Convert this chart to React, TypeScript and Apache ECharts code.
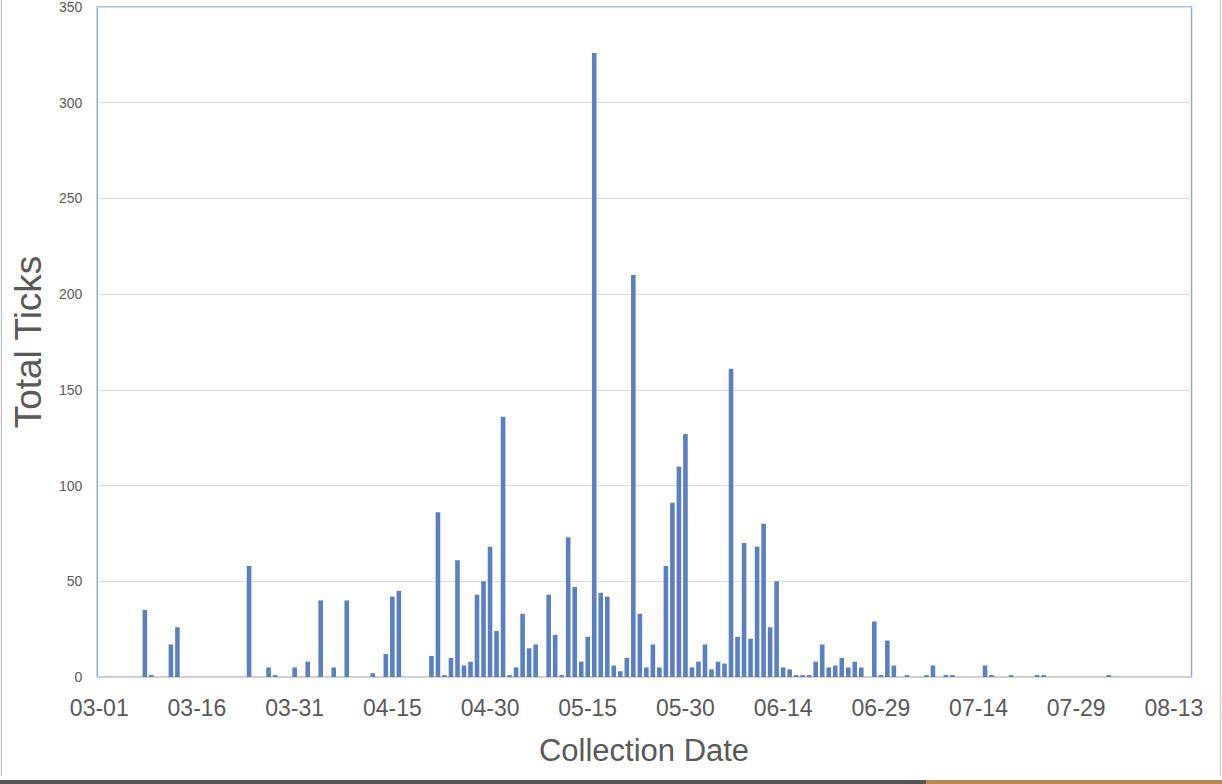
import React, { useEffect, useRef } from "react";
import * as echarts from "echarts";

// Collection dates (MM-DD) and total ticks counted on each date
const dates: string[] = [
  "03-08", "03-09", "03-12", "03-13", "03-24", "03-27", "03-28", "03-31",
  "04-02", "04-04", "04-06", "04-08", "04-12", "04-14", "04-15", "04-16",
  "04-21", "04-22", "04-23", "04-24", "04-25", "04-26", "04-27", "04-28",
  "04-29", "04-30", "05-01", "05-02", "05-03", "05-04", "05-05", "05-06",
  "05-07", "05-09", "05-10", "05-11", "05-12", "05-13", "05-14", "05-15",
  "05-16", "05-17", "05-18", "05-19", "05-20", "05-21", "05-22", "05-23",
  "05-24", "05-25", "05-26", "05-27", "05-28", "05-29", "05-30", "05-31",
  "06-01", "06-02", "06-03", "06-04", "06-05", "06-06", "06-07", "06-08",
  "06-09", "06-10", "06-11", "06-12", "06-13", "06-14", "06-15", "06-16",
  "06-17", "06-18", "06-19", "06-20", "06-21", "06-22", "06-23", "06-24",
  "06-25", "06-26", "06-28", "06-29", "06-30", "07-01", "07-03", "07-06",
  "07-07", "07-09", "07-10", "07-15", "07-16", "07-19", "07-23", "07-24",
  "08-03",
];

const totalTicks: number[] = [
  35, 1, 17, 26, 58, 5, 1, 5,
  8, 40, 5, 40, 2, 12, 42, 45,
  11, 86, 1, 10, 61, 6, 8, 43,
  50, 68, 24, 136, 1, 5, 33, 15,
  17, 43, 22, 1, 73, 47, 8, 21,
  326, 44, 42, 6, 3, 10, 210, 33,
  5, 17, 5, 58, 91, 110, 127, 5,
  8, 17, 4, 8, 7, 161, 21, 70,
  20, 68, 80, 26, 50, 5, 4, 1,
  1, 1, 8, 17, 5, 6, 10, 5,
  8, 5, 29, 1, 19, 6, 1, 1,
  6, 1, 1, 6, 1, 1, 1, 1,
  1,
];

const xTickLabels: string[] = [
  "03-01", "03-16", "03-31", "04-15", "04-30", "05-15",
  "05-30", "06-14", "06-29", "07-14", "07-29", "08-13",
];

const yMin = 0;
const yMax = 350;
const yInterval = 50;

const START = Date.UTC(2021, 2, 1);
const DAY = 86400000;

function dayIndex(mmdd: string): number {
  const [m, d] = mmdd.split("-").map(Number);
  return Math.round((Date.UTC(2021, m - 1, d) - START) / DAY);
}

function dayLabel(idx: number): string {
  const dt = new Date(START + Math.round(idx) * DAY);
  const m = String(dt.getUTCMonth() + 1).padStart(2, "0");
  const d = String(dt.getUTCDate()).padStart(2, "0");
  return `${m}-${d}`;
}

const FONT = "'Liberation Sans', Arial, sans-serif";
const GRAY = "#595959";

export default function App() {
  const ref = useRef<HTMLDivElement>(null);

  useEffect(() => {
    if (!ref.current) return;
    const chart = echarts.init(ref.current, undefined, { renderer: "svg" });
    const barData = dates.map((d, i) => [dayIndex(d), totalTicks[i]]);
    const tickValues = xTickLabels.map(dayIndex);

    chart.setOption({
      animation: false,
      backgroundColor: "#ffffff",
      grid: {
        left: 97.3,
        right: 30.5,
        top: 7,
        bottom: 107,
        show: true,
        borderColor: "#8FAADC",
        borderWidth: 1.5,
        backgroundColor: "transparent",
      },
      xAxis: {
        type: "value",
        min: -0.3,
        max: 167.7,
        axisLine: { show: true, lineStyle: { color: "#d0d0d0", width: 1.5 } },
        axisTick: { show: false },
        splitLine: { show: false },
        axisLabel: {
          customValues: tickValues,
          formatter: (v: number) => dayLabel(v),
          fontSize: 23,
          color: GRAY,
          fontFamily: FONT,
          margin: 19,
        },
      },
      yAxis: {
        type: "value",
        min: yMin,
        max: yMax,
        interval: yInterval,
        axisLine: { show: false },
        axisTick: { show: false },
        splitLine: { show: true, lineStyle: { color: "#dcdcdc", width: 1.2 } },
        axisLabel: {
          fontSize: 14,
          color: GRAY,
          fontFamily: FONT,
          margin: 15,
        },
      },
      series: [
        {
          type: "bar",
          data: barData,
          barWidth: 4.6,
          itemStyle: { color: "#5B80C2" },
        },
      ],
      graphic: [
        {
          type: "text",
          x: 28,
          y: 342,
          rotation: Math.PI / 2,
          style: {
            text: "Total Ticks",
            fontSize: 37,
            fontFamily: FONT,
            fill: GRAY,
            align: "center",
            verticalAlign: "middle",
          },
        },
        {
          type: "text",
          x: 644,
          y: 750,
          style: {
            text: "Collection Date",
            fontSize: 31,
            fontFamily: FONT,
            fill: GRAY,
            align: "center",
            verticalAlign: "middle",
          },
        },
        {
          type: "line",
          shape: { x1: 1.5, y1: 0, x2: 1.5, y2: 776 },
          style: { stroke: "#c8c8c8", lineWidth: 1.5 },
        },
        {
          type: "line",
          shape: { x1: 1220.5, y1: 0, x2: 1220.5, y2: 776 },
          style: { stroke: "#e0d0c0", lineWidth: 1.5 },
        },
        {
          type: "rect",
          shape: { x: 0, y: 780, width: 926, height: 4 },
          style: { fill: "#555555" },
        },
        {
          type: "rect",
          shape: { x: 926, y: 780, width: 296, height: 4 },
          style: { fill: "#B58A55" },
        },
      ],
    });

    return () => chart.dispose();
  }, []);

  return (
    <div
      ref={ref}
      style={{ position: "fixed", left: 0, top: 0, width: 1222, height: 784 }}
    />
  );
}
